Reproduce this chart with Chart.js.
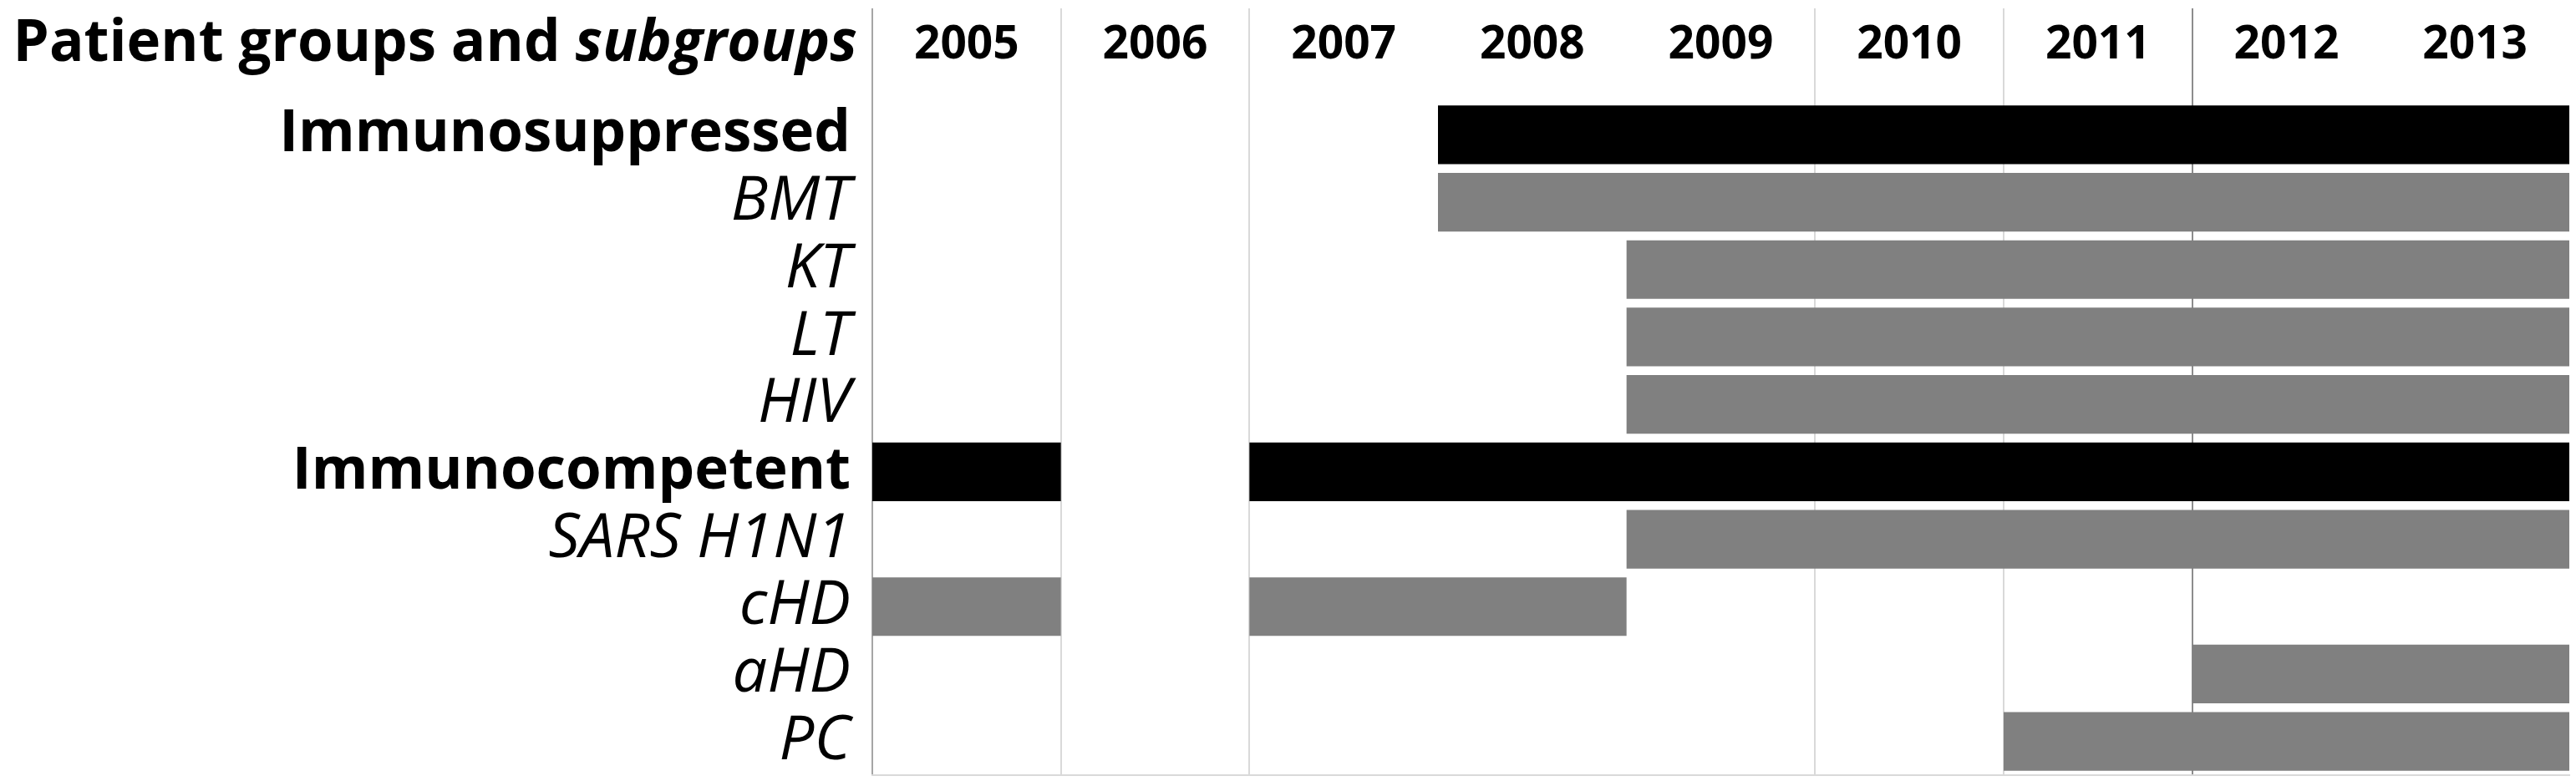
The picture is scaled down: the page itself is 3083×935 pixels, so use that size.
<!DOCTYPE html>
<html>
<head>
<meta charset="utf-8">
<script src="https://cdn.jsdelivr.net/npm/chart.js@4"></script>
<style>
  body { margin: 0; background: #fff; }
  #wrap { width: 3083px; height: 935px; }
</style>
</head>
<body>
<div id="wrap"><canvas id="grafica"></canvas></div>
<script>
// rows of the chart, top to bottom
const rows = ["Immunosuppressed", "BMT", "KT", "LT", "HIV",
              "Immunocompetent", "SARS H1N1", "cHD", "aHD", "PC"];
const groupRows = ["Immunosuppressed", "Immunocompetent"];

// year columns
const years = [2005, 2006, 2007, 2008, 2009, 2010, 2011, 2012, 2013];
const yearMin = 2005;
const yearMax = 2014;

// first period of each row (start, end)
const firstStart = [2008, 2008, 2009, 2009, 2009, 2005, 2009, 2005, 2012, 2011];
const firstEnd   = [2014, 2014, 2014, 2014, 2014, 2006, 2014, 2006, 2014, 2014];

// second period (only where the row has a gap)
const secondStart = [null, null, null, null, null, 2007, null, 2007, null, null];
const secondEnd   = [null, null, null, null, null, 2014, null, 2009, null, null];

const FONT = "'Open Sans', 'DejaVu Sans', sans-serif";

function barColor(ctx) {
    return groupRows.includes(rows[ctx.dataIndex]) ? "#000000" : "#808080";
}

function pairs(a, b) {
    return a.map((v, i) => (v === null ? null : [v, b[i]]));
}

// header "Patient groups and subgroups" (last word in italics)
const headerPlugin = {
    id: "header",
    afterDraw(chart) {
        const ctx = chart.ctx;
        const right = chart.chartArea.left - 18;
        const y = chart.chartArea.top - 68;
        ctx.save();
        ctx.fillStyle = "#000";
        ctx.textBaseline = "middle";
        ctx.textAlign = "left";
        const fontA = "bold 69px " + FONT;
        const fontB = "italic bold 69px " + FONT;
        ctx.font = fontB;
        const wB = ctx.measureText("subgroups").width;
        ctx.font = fontA;
        const wA = ctx.measureText("Patient groups and ").width;
        ctx.fillText("Patient groups and ", right - wB - wA, y);
        ctx.font = fontB;
        ctx.fillText("subgroups", right - wB, y);
        ctx.restore();
    }
};

function gridColor(ctx) {
    if (ctx.type !== "tick") return "transparent";
    const yr = years[ctx.index];
    if (yr === 2005) return "#a6a6a6";
    if (yr === 2008 || yr === 2009 || yr === 2013) return "transparent";
    if (yr === 2012) return "#8c8c8c";
    return "#d9d9d9";
}

new Chart(document.getElementById("grafica"), {
    type: "bar",
    data: {
        labels: rows,
        datasets: [
            {
                data: pairs(firstStart, firstEnd),
                backgroundColor: barColor,
                grouped: false,
                barPercentage: 0.87,
                categoryPercentage: 1,
                borderWidth: 0
            },
            {
                data: pairs(secondStart, secondEnd),
                backgroundColor: barColor,
                grouped: false,
                barPercentage: 0.87,
                categoryPercentage: 1,
                borderWidth: 0
            }
        ]
    },
    options: {
        indexAxis: "y",
        responsive: true,
        maintainAspectRatio: false,
        animation: false,
        layout: { padding: { top: 0, right: 8, bottom: 7, left: 0 } },
        plugins: {
            legend: { display: false },
            tooltip: { enabled: false }
        },
        scales: {
            x: {
                type: "linear",
                position: "top",
                min: yearMin,
                max: yearMax,
                afterBuildTicks: axis => {
                    axis.ticks = years.map(y => ({ value: y + 0.5 }));
                },
                afterFit: axis => { axis.height = 121; },
                border: { display: false },
                grid: {
                    offset: true,
                    color: gridColor,
                    lineWidth: 2,
                    tickLength: 111
                },
                ticks: {
                    padding: -77,
                    color: "#000",
                    maxRotation: 0,
                    autoSkip: false,
                    font: { family: FONT, size: 55, weight: "bold" },
                    callback: (value, index) => String(years[index])
                }
            },
            x2: {
                type: "linear",
                position: "bottom",
                min: yearMin,
                max: yearMax,
                afterFit: axis => { axis.height = 0; },
                border: { display: true, color: "#d9d9d9", width: 2 },
                grid: { display: false },
                ticks: { display: false }
            },
            y: {
                afterFit: axis => {
                    axis.width = 1044;
                    axis.paddingTop = 0;
                    axis.paddingBottom = 0;
                },
                border: { display: false },
                grid: { display: false },
                ticks: {
                    padding: 18,
                    color: "#000",
                    autoSkip: false,
                    font: ctx => groupRows.includes(rows[ctx.index])
                        ? { family: FONT, size: 69, weight: "bold" }
                        : { family: FONT, size: 74, style: "italic", weight: "normal" }
                }
            }
        }
    },
    plugins: [headerPlugin]
});
</script>
</body>
</html>
